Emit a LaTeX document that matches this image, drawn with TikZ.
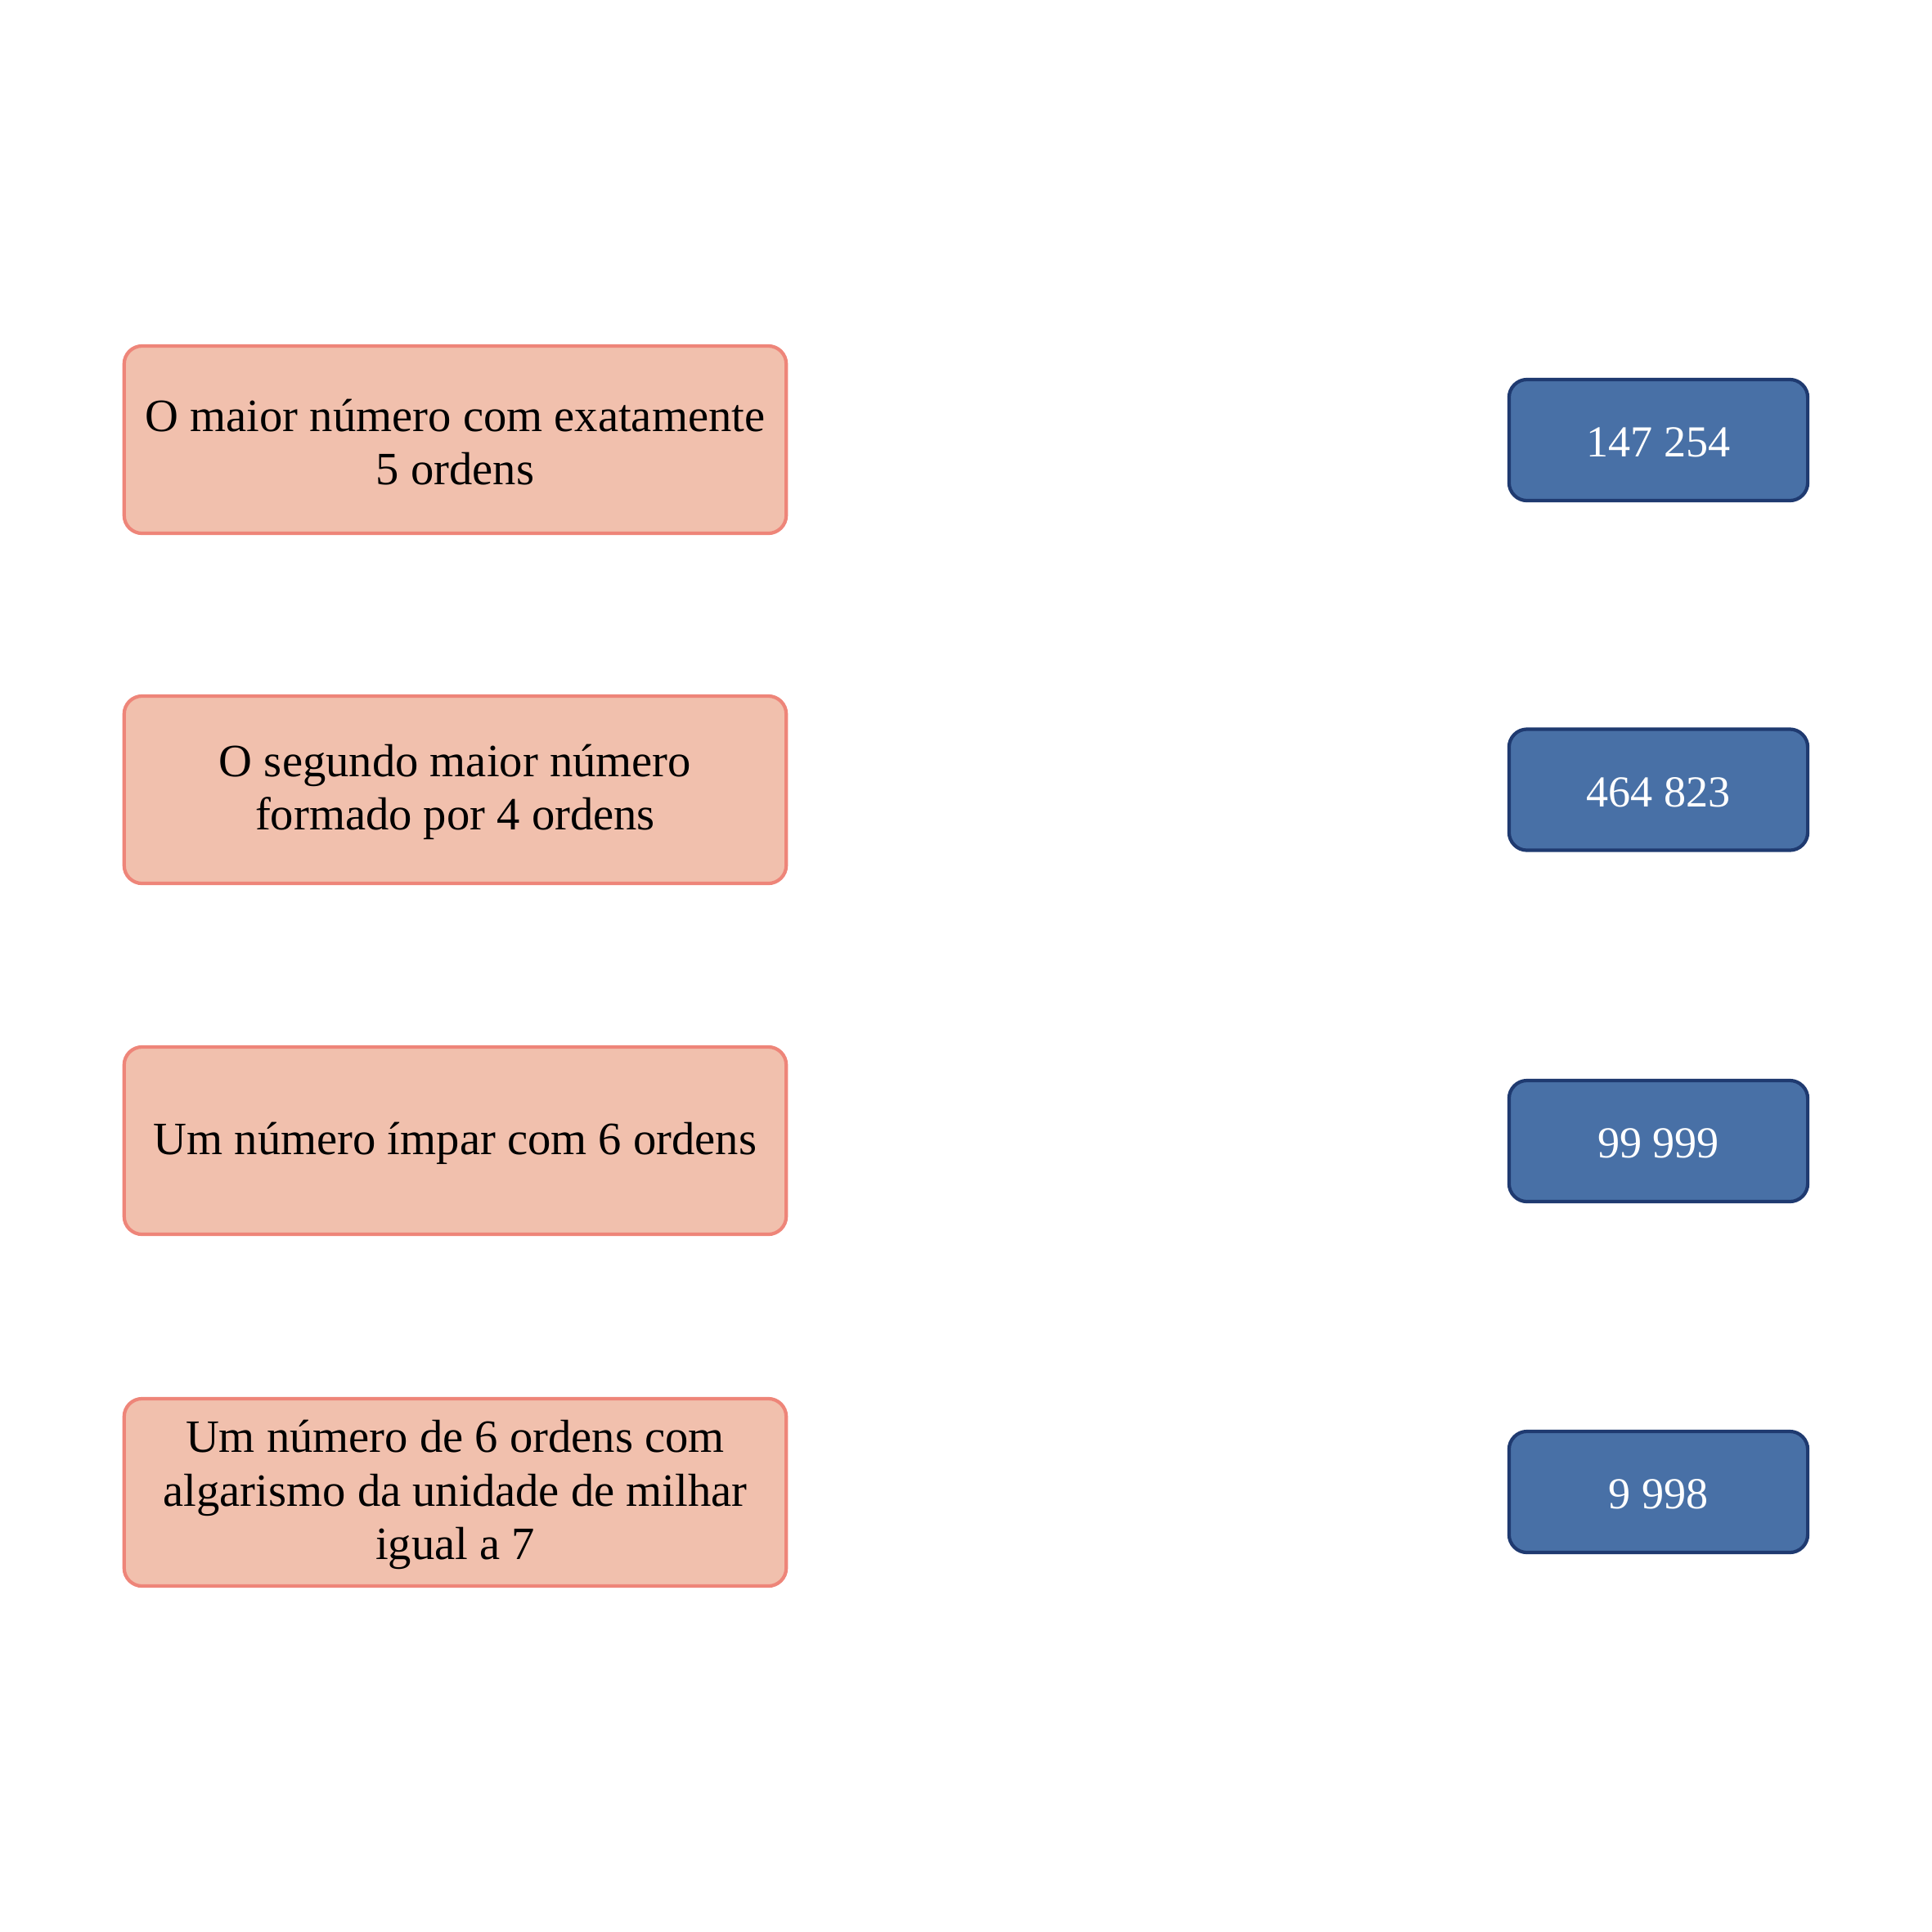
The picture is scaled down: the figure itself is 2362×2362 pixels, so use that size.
\documentclass[tikz,border=0pt]{standalone}
\usepackage{fontspec}
\setmainfont{Liberation Serif}
\definecolor{pinkfill}{HTML}{F1C0AD}
\definecolor{pinkdraw}{HTML}{EE8579}
\definecolor{bluefill}{HTML}{4870A6}
\definecolor{bluedraw}{HTML}{1F3A70}
\tikzset{
  qbox/.style={draw=pinkdraw, fill=pinkfill, line width=1.2pt, rounded corners=0.22cm,
    minimum width=8.09cm, minimum height=2.29cm, inner sep=0pt},
  qtext/.style={align=center, inner sep=0pt, yshift=-0.03cm,
    font=\fontsize{16.1}{18.6}\selectfont, text=black},
  abox/.style={draw=bluedraw, fill=bluefill, line width=1.2pt, rounded corners=0.22cm,
    minimum width=3.65cm, minimum height=1.48cm, inner sep=0pt},
  atext/.style={align=center, inner sep=0pt, yshift=-0.03cm,
    font=\fontsize{15.4}{17.9}\selectfont, text=white}
}
\begin{document}
\begin{tikzpicture}[x=0.01cm, y=-0.01cm]
\useasboundingbox (0,0) rectangle (2362,2362);
\node[qbox] (q1) at (556.5,537.5) {};
\node[qtext] (q1t) at (q1.center) {O maior número com exatamente\\5 ordens};
\node[qbox] (q2) at (556.5,965.5) {};
\node[qtext] (q2t) at (q2.center) {O segundo maior número\\formado por 4 ordens};
\node[qbox] (q3) at (556.5,1394.5) {};
\node[qtext] (q3t) at (q3.center) {Um número ímpar com 6 ordens};
\node[qbox] (q4) at (556.5,1824.5) {};
\node[qtext] (q4t) at (q4.center) {Um número de 6 ordens com\\algarismo da unidade de milhar\\igual a 7};
\node[abox] (a1) at (2027.5,538) {};
\node[atext] (a1t) at (a1.center) {147 254};
\node[abox] (a2) at (2027.5,965.5) {};
\node[atext] (a2t) at (a2.center) {464 823};
\node[abox] (a3) at (2027.5,1395) {};
\node[atext] (a3t) at (a3.center) {99 999};
\node[abox] (a4) at (2027.5,1824) {};
\node[atext] (a4t) at (a4.center) {9 998};
\end{tikzpicture}
\end{document}
